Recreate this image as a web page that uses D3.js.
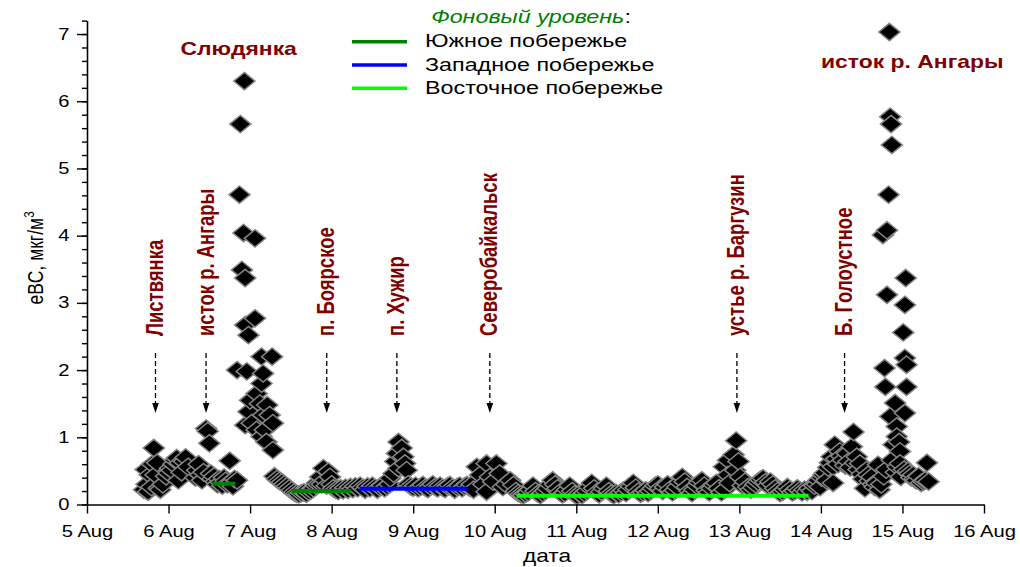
<!DOCTYPE html>
<html>
<head>
<meta charset="utf-8">
<script src="https://cdn.jsdelivr.net/npm/d3@7"></script>
<style>
  body { margin: 0; background: #fff; }
  svg { display: block; }
  text { font-family: "Liberation Sans", Arial, sans-serif; }
</style>
</head>
<body>
<svg id="chart" width="1020" height="567"></svg>
<script>
// eBC measurements along the Baikal route, [day of August, eBC, мкг/м³]
const ptsListvyanka = [
  [5.70,0.22],[5.72,0.52],[5.73,0.30],[5.75,0.19],[5.77,0.44],[5.79,0.26],[5.80,0.60],[5.82,0.84],
  [5.84,0.44],[5.86,0.62],[5.88,0.24],[5.90,0.22],[5.93,0.30],[5.97,0.42],[6.00,0.47],[6.02,0.54],
  [6.04,0.51],[6.06,0.60],[6.08,0.66],[6.10,0.69],[6.12,0.36],[6.14,0.62],[6.16,0.48],[6.19,0.64],
  [6.21,0.70],[6.24,0.56]
];
const ptsIstok1 = [
  [6.33,0.40],[6.35,0.51],[6.37,0.60],[6.39,0.44],[6.41,0.36],[6.43,0.48],[6.46,1.13],[6.48,1.09],
  [6.50,0.91],[6.52,0.46],[6.54,0.38],[6.56,0.42],[6.58,0.34],[6.60,0.30],[6.62,0.38],[6.64,0.33],
  [6.66,0.28],[6.68,0.40],[6.70,0.35],[6.72,0.30],[6.75,0.65],[6.77,0.33],[6.79,0.27],[6.81,0.38],
  [6.84,0.36]
];
const ptsSlyudyanka = [
  [6.84,2.00],[6.87,4.61],[6.88,5.66],[6.90,3.49],[6.92,4.04],[6.93,6.30],[6.94,3.37],[6.94,2.67],
  [6.94,1.18],[6.96,1.98],[6.98,2.52],[6.98,1.38],[7.00,1.55],[7.02,1.21],[7.06,3.96],[7.06,2.77],
  [7.08,1.65],[7.08,1.11],[7.12,1.50],[7.14,2.20],[7.14,1.80],[7.14,1.01],[7.16,1.95],[7.16,1.33],
  [7.18,1.11],[7.20,0.93],[7.21,1.48],[7.24,1.33],[7.27,2.20],[7.28,1.21],[7.28,0.81]
];
const ptsBoyarskoe = [
  [7.30,0.42],[7.33,0.38],[7.36,0.35],[7.39,0.33],[7.42,0.30],[7.45,0.27],[7.48,0.24],[7.51,0.21],
  [7.54,0.18],[7.57,0.16],[7.60,0.15],[7.63,0.17],[7.66,0.18],[7.69,0.16],[7.72,0.19],[7.75,0.21],
  [7.78,0.24],[7.81,0.28],[7.82,0.32],[7.84,0.30],[7.86,0.41],[7.88,0.30],[7.90,0.54],[7.92,0.36],
  [7.94,0.28],[7.96,0.49],[7.98,0.41],[8.00,0.30],[8.02,0.24],[8.05,0.22],[8.08,0.20],[8.11,0.24],
  [8.14,0.21],[8.17,0.25],[8.20,0.22],[8.23,0.26],[8.26,0.23],[8.29,0.27],[8.32,0.24],[8.35,0.28],
  [8.38,0.25],[8.41,0.22],[8.44,0.27],[8.47,0.24],[8.50,0.28],[8.53,0.25],[8.56,0.22],[8.59,0.26],
  [8.62,0.28],[8.65,0.24],[8.68,0.27],[8.71,0.30]
];
const ptsKhuzhir = [
  [8.72,0.39],[8.76,0.46],[8.78,0.64],[8.80,0.76],[8.82,0.93],[8.82,0.54],[8.86,0.84],[8.88,0.71],
  [8.90,0.61],[8.92,0.51],[8.94,0.30],[8.97,0.27],[9.00,0.25],[9.03,0.28],[9.06,0.24],[9.09,0.26],
  [9.12,0.29],[9.15,0.25],[9.18,0.23],[9.21,0.27],[9.24,0.30],[9.27,0.26],[9.30,0.24],[9.33,0.28],
  [9.36,0.25],[9.39,0.23],[9.42,0.27],[9.45,0.29],[9.48,0.25],[9.51,0.22],[9.54,0.26],[9.57,0.28],
  [9.60,0.24],[9.63,0.27],[9.66,0.29],[9.69,0.25],[9.72,0.30]
];
const ptsSeverobaikalsk = [
  [9.74,0.22],[9.78,0.56],[9.82,0.44],[9.86,0.30],[9.90,0.61],[9.90,0.19],[9.94,0.41],[9.98,0.34],
  [10.02,0.61],[10.06,0.46],[10.10,0.26],[10.14,0.30],[10.19,0.36],[10.23,0.29]
];
const ptsEastShore = [
  [10.26,0.20],[10.29,0.17],[10.32,0.15],[10.35,0.14],[10.38,0.16],[10.41,0.18],[10.44,0.22],[10.47,0.28],
  [10.50,0.20],[10.53,0.16],[10.56,0.14],[10.59,0.17],[10.62,0.20],[10.65,0.24],[10.68,0.30],[10.71,0.36],
  [10.74,0.30],[10.77,0.24],[10.80,0.18],[10.83,0.15],[10.86,0.17],[10.89,0.22],[10.92,0.28],[10.95,0.20],
  [10.98,0.15],[11.01,0.13],[11.04,0.16],[11.07,0.14],[11.10,0.17],[11.13,0.20],[11.16,0.26],[11.19,0.32],
  [11.22,0.24],[11.25,0.18],[11.28,0.15],[11.31,0.19],[11.34,0.24],[11.37,0.28],[11.40,0.20],[11.43,0.16],
  [11.46,0.14],[11.49,0.17],[11.52,0.15],[11.55,0.18],[11.58,0.21],[11.61,0.17],[11.64,0.22],[11.67,0.27],
  [11.70,0.32],[11.73,0.25],[11.76,0.19],[11.79,0.16],[11.82,0.18],[11.85,0.21],[11.88,0.17],[11.91,0.20],
  [11.94,0.24],[11.97,0.28],[12.00,0.30],[12.03,0.24],[12.06,0.20],[12.09,0.26],[12.12,0.30],[12.15,0.22],
  [12.18,0.18],[12.21,0.21],[12.24,0.26],[12.27,0.33],[12.30,0.41],[12.33,0.34],[12.36,0.26],[12.39,0.20],
  [12.42,0.17],[12.45,0.22],[12.48,0.28],[12.51,0.33],[12.54,0.36],[12.57,0.28],[12.60,0.21],[12.63,0.18],
  [12.66,0.24],[12.69,0.29],[12.72,0.32],[12.75,0.24],[12.78,0.18]
];
const ptsBarguzin = [
  [12.81,0.56],[12.82,0.22],[12.86,0.66],[12.86,0.44],[12.88,0.32],[12.93,0.74],[12.95,0.51],[12.96,0.95],
  [12.99,0.64],[13.01,0.41],[13.04,0.28],[13.07,0.34],[13.11,0.26],[13.14,0.22],[13.17,0.25],[13.20,0.30],
  [13.23,0.34],[13.26,0.37],[13.29,0.39],[13.32,0.33],[13.35,0.28],[13.38,0.34],[13.41,0.30],[13.44,0.24],
  [13.47,0.20],[13.50,0.17],[13.53,0.19],[13.56,0.22],[13.59,0.26],[13.62,0.22],[13.65,0.18],[13.68,0.20],
  [13.71,0.24],[13.74,0.21],[13.77,0.18],[13.80,0.22],[13.83,0.19],[13.86,0.24],[13.89,0.20],[13.92,0.28]
];
const ptsGoloustnoe = [
  [13.95,0.30],[13.97,0.36],[13.99,0.26],[14.01,0.40],[14.03,0.44],[14.05,0.47],[14.07,0.36],[14.09,0.55],
  [14.11,0.62],[14.13,0.71],[14.15,0.56],[14.15,0.32],[14.17,0.89],[14.19,0.68],[14.21,0.60],[14.23,0.79],
  [14.25,0.72],[14.27,0.66],[14.30,0.58],[14.32,0.76],[14.34,0.64],[14.36,0.55],[14.38,0.86],[14.40,1.08],
  [14.42,0.62],[14.44,0.71],[14.46,0.52],[14.48,0.61],[14.50,0.45],[14.52,0.38],[14.54,0.24],[14.56,0.51],
  [14.58,0.44],[14.60,0.35],[14.62,0.41],[14.64,0.30],[14.66,0.26],[14.68,0.32],[14.70,0.59],[14.72,0.22],
  [14.74,0.30]
];
const ptsIstok2 = [
  [14.76,4.01],[14.77,0.42],[14.78,2.03],[14.79,1.75],[14.80,0.52],[14.81,4.08],[14.81,3.12],[14.83,4.61],
  [14.84,7.03],[14.85,5.77],[14.85,1.31],[14.86,5.66],[14.87,5.35],[14.87,0.66],[14.89,0.89],[14.91,1.51],
  [14.92,0.48],[14.93,1.16],[14.93,1.01],[14.94,0.56],[14.96,0.93],[14.97,0.79],[14.97,0.61],[14.98,0.41],
  [15.01,2.56],[15.02,0.52],[15.03,2.97],[15.03,2.18],[15.03,1.36],[15.04,3.37],[15.05,2.08],[15.05,1.75],
  [15.07,0.50],[15.09,0.46],[15.11,0.40],[15.13,0.44],[15.15,0.38],[15.17,0.36],[15.20,0.42],[15.23,0.32],
  [15.26,0.34],[15.28,0.36],[15.30,0.62],[15.32,0.34]
];

// background levels: [from day, to day, eBC]
const bgSouth = [[6.54, 6.82, 0.31], [7.51, 8.24, 0.20]];
const bgWest  = [[8.34, 9.66, 0.235]];
const bgEast  = [[10.27, 13.85, 0.13]];

// sites marked with arrows
const siteNames = ["Листвянка", "исток р. Ангары", "п. Боярское", "п. Хужир", "Северобайкальск", "устье р. Баргузин", "Б. Голоустное"];
const siteDays  = [5.84, 6.46, 7.94, 8.80, 9.94, 12.97, 14.29];

// peak captions: name, day, eBC level of the baseline
const peakNames  = ["Слюдянка", "исток р. Ангары"];
const peakDays   = [6.86, 15.12];
const peakLevels = [6.69, 6.49];

const xTickDays = [5, 6, 7, 8, 9, 10, 11, 12, 13, 14, 15, 16];
const yTickValues = [0, 1, 2, 3, 4, 5, 6, 7];
const legendNames = ["Южное побережье", "Западное побережье", "Восточное побережье"];
const legendColors = ["#008000", "#0000ff", "#00ff00"];

// ---------------------------------------------------------------------------
const SX = 1.26;           // horizontal glyph stretch used for all lettering
const DARK_RED = "#800000";
const base = Date.UTC(2019, 7, 0);
const dt = d => new Date(base + d * 864e5);

const svg = d3.select("#chart");
const x = d3.scaleUtc().domain([dt(5), dt(16)]).range([87, 984]);
const y = d3.scaleLinear().domain([0, 7.2]).range([504.5, 20.6]);

function label(parent, px, py, str, rotate) {
  const g = parent.append("g")
    .attr("transform", `translate(${px},${py}) scale(${SX},1)` + (rotate ? " rotate(-90)" : ""));
  return g.append("text").text(str);
}

// scatter
const allPts = [].concat(ptsListvyanka, ptsIstok1, ptsSlyudyanka, ptsBoyarskoe, ptsKhuzhir,
  ptsSeverobaikalsk, ptsEastShore, ptsBarguzin, ptsGoloustnoe, ptsIstok2);
const diamond = "M0,-8.7L10.6,0L0,8.7L-10.6,0Z";
svg.append("g").selectAll("path").data(allPts).join("path")
  .attr("d", diamond)
  .attr("transform", d => `translate(${x(dt(d[0]))},${y(d[1])})`)
  .attr("fill", "#000")
  .attr("stroke", "#858585")
  .attr("stroke-width", 1.5);

// background levels
[[bgSouth, legendColors[0]], [bgWest, legendColors[1]], [bgEast, legendColors[2]]].forEach(([segs, c]) => {
  svg.append("g").selectAll("line").data(segs).join("line")
    .attr("x1", d => x(dt(d[0]))).attr("x2", d => x(dt(d[1])))
    .attr("y1", d => y(d[2])).attr("y2", d => y(d[2]))
    .attr("stroke", c).attr("stroke-width", 4);
});

// site arrows and rotated names
const arrows = svg.append("g");
siteDays.forEach((d, i) => {
  const ax = x(dt(d));
  arrows.append("line")
    .attr("x1", ax).attr("x2", ax).attr("y1", 353).attr("y2", 405)
    .attr("stroke", "#000").attr("stroke-width", 1.3).attr("stroke-dasharray", "5,3");
  arrows.append("path")
    .attr("d", `M${ax - 3.3},403L${ax + 3.3},403L${ax},413Z`).attr("fill", "#000");
  label(svg, ax + 7.5, 336, siteNames[i], true)
    .attr("font-size", 18.5).attr("font-weight", "bold").attr("fill", DARK_RED);
});

// peak captions
peakNames.forEach((n, i) => {
  label(svg, x(dt(peakDays[i])), y(peakLevels[i]), n, false)
    .attr("text-anchor", "middle").attr("font-size", 18.2)
    .attr("font-weight", "bold").attr("fill", DARK_RED);
});

// legend
const lt = label(svg, 531, 23, "", false).attr("text-anchor", "middle").attr("font-size", 18.5);
lt.append("tspan").attr("fill", "#008000").attr("font-style", "italic").text("Фоновый уровень");
lt.append("tspan").attr("fill", "#000").text(":");
legendNames.forEach((n, i) => {
  const ly = 41.7 + i * 23.3;
  svg.append("line").attr("x1", 352).attr("x2", 407).attr("y1", ly).attr("y2", ly)
    .attr("stroke", legendColors[i]).attr("stroke-width", 3.5);
  label(svg, 425, ly + 5.6, n, false).attr("font-size", 18.5).attr("fill", "#000");
});

// axes
const xAxis = svg.append("g").attr("transform", `translate(0,${y(0)})`)
  .call(d3.axisBottom(x).tickValues(xTickDays.map(dt))
    .tickFormat(d3.utcFormat("%-d %b")).tickSize(9).tickSizeOuter(0).tickPadding(12));
xAxis.selectAll("text").attr("font-size", 16).attr("font-family", "Liberation Sans, Arial, sans-serif")
  .attr("fill", "#000").attr("transform", `scale(${SX},1)`);

svg.append("g").attr("transform", "translate(87,0)")
  .call(d3.axisLeft(y).tickValues(d3.range(0, 7.21, 0.2)).tickSize(5).tickFormat("").tickSizeOuter(0))
  .call(g => g.select(".domain").remove());
const yAxis = svg.append("g").attr("transform", "translate(87,0)")
  .call(d3.axisLeft(y).tickValues(yTickValues).tickSize(10).tickSizeOuter(0).tickPadding(4));
yAxis.selectAll("text").attr("font-size", 16).attr("font-family", "Liberation Sans, Arial, sans-serif")
  .attr("fill", "#000").attr("transform", `scale(${SX},1)`);

svg.selectAll(".domain").attr("stroke-width", 1.6);
svg.selectAll(".tick line").attr("stroke-width", 1.4);

// axis titles
label(svg, 547, 562, "дата", false).attr("text-anchor", "middle").attr("font-size", 18).attr("fill", "#000");
const yt = label(svg, 43, 258, "", true).attr("text-anchor", "middle").attr("font-size", 17.5).attr("fill", "#000");
yt.append("tspan").text("eBC, мкг/м");
yt.append("tspan").attr("font-size", 11.5).attr("dy", -7).text("3");
</script>
</body>
</html>
